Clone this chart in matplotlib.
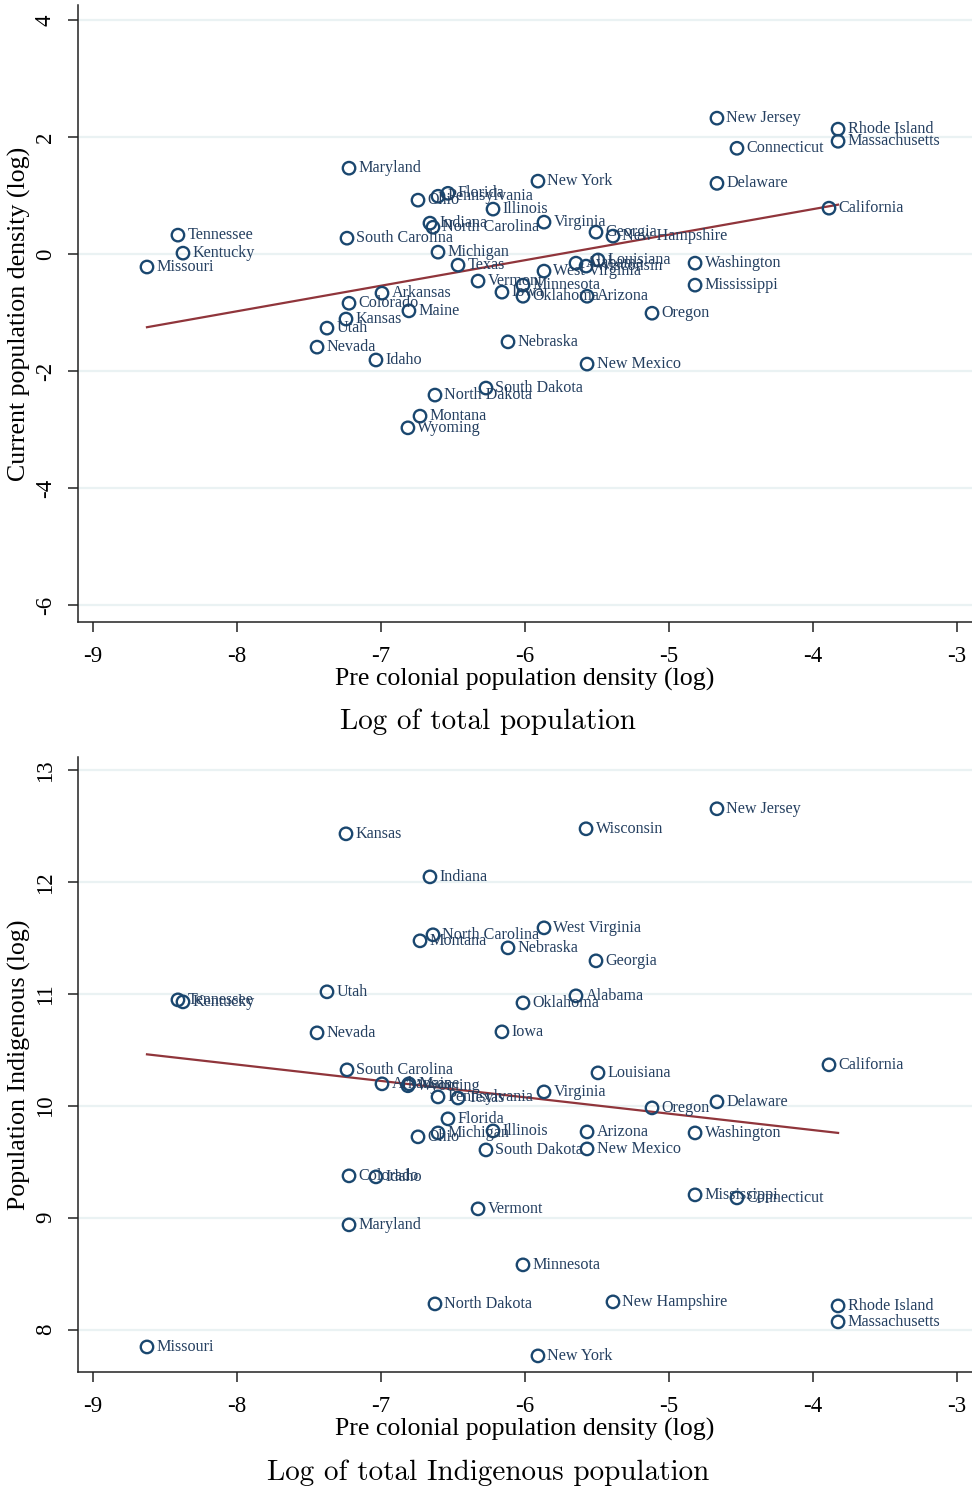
import numpy as np
import matplotlib
matplotlib.use("Agg")
import matplotlib.pyplot as plt

plt.rcParams['font.family'] = ['Liberation Serif', 'DejaVu Serif']
plt.rcParams['axes.unicode_minus'] = False

states = ["New Jersey", "Rhode Island", "Massachusetts", "Connecticut", "Delaware",
          "California", "Maryland", "New York", "Florida", "Pennsylvania", "Ohio",
          "Illinois", "Indiana", "North Carolina", "Virginia", "Georgia",
          "New Hampshire", "South Carolina", "Michigan", "Texas", "Alabama",
          "Wisconsin", "Louisiana", "West Virginia", "Vermont", "Iowa", "Minnesota",
          "Oklahoma", "Arizona", "Oregon", "Washington", "Mississippi", "Arkansas",
          "Colorado", "Maine", "Kansas", "Utah", "Nevada", "Idaho", "Nebraska",
          "New Mexico", "North Dakota", "South Dakota", "Montana", "Wyoming",
          "Tennessee", "Kentucky", "Missouri"]

pre_density = [-4.667, -3.826, -3.826, -4.528, -4.667,
               -3.889, -7.222, -5.910, -6.535, -6.604, -6.743,
               -6.222, -6.660, -6.639, -5.868, -5.507,
               -5.389, -7.236, -6.604, -6.465, -5.646,
               -5.576, -5.493, -5.868, -6.326, -6.160, -6.014,
               -6.014, -5.569, -5.118, -4.819, -4.819, -6.993,
               -7.222, -6.806, -7.243, -7.375, -7.444, -7.035, -6.118,
               -5.569, -6.625, -6.271, -6.729, -6.813,
               -8.410, -8.375, -8.625]

cur_density = [2.325, 2.137, 1.930, 1.810, 1.210,
               0.786, 1.470, 1.248, 1.040, 0.990, 0.923,
               0.770, 0.530, 0.460, 0.547, 0.376,
               0.308, 0.273, 0.034, -0.188, -0.154,
               -0.205, -0.100, -0.290, -0.460, -0.650, -0.530,
               -0.720, -0.720, -1.010, -0.154, -0.530, -0.667,
               -0.840, -0.970, -1.110, -1.265, -1.590, -1.810, -1.500,
               -1.880, -2.410, -2.290, -2.770, -2.970,
               0.325, 0.017, -0.220]

indig_pop = [12.657, 8.211, 8.068, 9.177, 10.036,
             10.367, 8.936, 7.764, 9.884, 10.080, 9.723,
             9.776, 12.048, 11.530, 10.125, 11.297,
             8.247, 10.322, 9.758, 10.070, 10.984,
             12.478, 10.295, 11.592, 9.079, 10.662, 8.578,
             10.921, 9.767, 9.982, 9.758, 9.204, 10.197,
             9.374, 10.197, 12.433, 11.020, 10.653, 9.365, 11.413,
             9.615, 8.229, 9.606, 11.476, 10.180,
             10.948, 10.930, 7.844]

x_ticks = [-9, -8, -7, -6, -5, -4, -3]
top_yticks = [4, 2, 0, -2, -4, -6]
bot_yticks = [13, 12, 11, 10, 9, 8]

x_label = "Pre colonial population density (log)"
top_ylabel = "Current population density (log)"
bot_ylabel = "Population Indigenous (log)"
top_caption = "Log of total population"
bot_caption = "Log of total Indigenous population"

NAVY = "#1a476f"
MAROON = "#90353b"
GRID = "#eaf2f3"

W, H = 972, 1490
fig = plt.figure(figsize=(W / 100, H / 100), dpi=100)

def ax_rect(left, top, right, bottom):
    return [left / W, 1 - bottom / H, (right - left) / W, (bottom - top) / H]

def panel(rect, y, yticks, ylim, ylabel, caption, cap_y):
    ax = fig.add_axes(rect)
    x = np.array(pre_density)
    y = np.array(y)
    ax.set_xlim(-9.104, -2.896)
    ax.set_ylim(*ylim)
    for t in yticks:
        ax.axhline(t, color=GRID, lw=1.6, zorder=0)
    b, a = np.polyfit(x, y, 1)
    xs = np.array([x.min(), x.max()])
    ax.plot(xs, a + b * xs, color=MAROON, lw=1.6, zorder=2)
    ax.scatter(x, y, s=80, facecolors="none", edgecolors=NAVY, linewidths=1.7, zorder=3)
    for name, xi, yi in zip(states, x, y):
        ax.annotate(name, (xi, yi), xytext=(6.8, 0), textcoords="offset points",
                    va="center", ha="left", fontsize=11.6, color="#243f60", zorder=4)
    for s in ["top", "right"]:
        ax.spines[s].set_visible(False)
    for s in ["left", "bottom"]:
        ax.spines[s].set_linewidth(1.1)
        ax.spines[s].set_color("#222222")
    ax.set_xticks(x_ticks)
    ax.set_xticklabels([str(v) for v in x_ticks], fontsize=16.5)
    ax.set_yticks(yticks)
    ax.set_yticklabels([str(v) for v in yticks], fontsize=16.5, rotation=90, va="center")
    ax.tick_params(axis="both", direction="out", length=7, width=1.1, color="#222222")
    ax.tick_params(axis="x", pad=10)
    ax.tick_params(axis="y", pad=9)
    ax.set_xlabel(x_label, fontsize=18.6, labelpad=1)
    ax.set_ylabel(ylabel, fontsize=18.6, labelpad=3)
    fig.text(488 / W, 1 - cap_y / H, caption, ha="center", va="center",
             fontsize=21, family="cmr10")
    return ax

panel(ax_rect(78, 5, 972, 622), cur_density, top_yticks, (-6.29, 4.26),
      top_ylabel, top_caption, 722)
panel(ax_rect(78, 757, 972, 1372), indig_pop, bot_yticks, (7.62, 13.12),
      bot_ylabel, bot_caption, 1473)

fig.savefig("out.png", dpi=100, facecolor="white")
